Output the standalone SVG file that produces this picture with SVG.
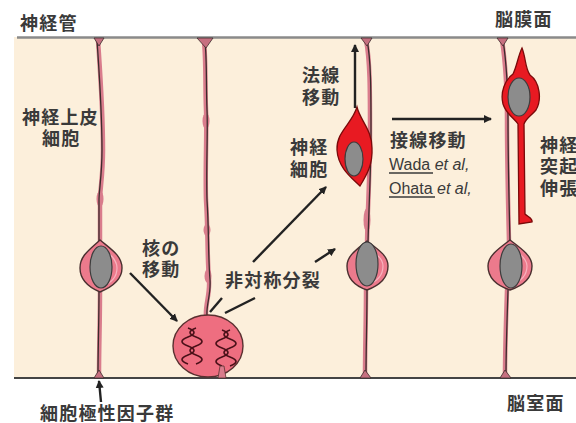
<svg xmlns="http://www.w3.org/2000/svg" width="576" height="423" viewBox="0 0 576 423">
  <defs>
    <style>
      .jp { font-family: "Noto Sans CJK JP", "Noto Sans", sans-serif; font-weight: 700; font-size: 18px; letter-spacing: 1.2px; fill: #3a3a3a; }
      .en { font-family: "Liberation Sans", Arial, sans-serif; font-size: 16px; fill: #3a3a3a; }
      .it { font-style: italic; }
      .fiber-pink { fill: none; stroke: #D97C8C; stroke-width: 4.5; stroke-linecap: round; }
      .fiber-dark { fill: none; stroke: #3b2c2c; stroke-width: 1.3; }
      .soma { fill: #EC7A8C; stroke: #4a3030; stroke-width: 1.4; }
      .soma-in { fill: none; stroke: #F7B3BE; stroke-width: 1.2; }
      .nuc { fill: #8C8C8C; stroke: #3d3d3d; stroke-width: 1.2; }
      .neuron { fill: #E81A22; stroke: #7a0a0a; stroke-width: 1.3; }
      .foot { fill: #C77080; stroke: #3b2c2c; stroke-width: 0.8; }
      .arrow { fill: none; stroke: #222; stroke-width: 2.4; }
      .dna { fill: none; stroke: #4a1018; stroke-width: 1.6; }
    </style>
    <marker id="ah" markerWidth="10" markerHeight="10" refX="7" refY="5" orient="auto" markerUnits="userSpaceOnUse">
      <path d="M0,1 L8,5 L0,9 Z" fill="#222"/>
    </marker>
  </defs>

  <!-- tissue background and surfaces -->
  <rect x="14" y="37" width="562" height="341" fill="#FCEFDB"/>
  <line x1="17" y1="37.5" x2="576" y2="37.5" stroke="#8a8a8a" stroke-width="2.5"/>
  <line x1="14" y1="378" x2="576" y2="378" stroke="#444" stroke-width="2"/>

  <!-- labels -->
  <g id="labels">
    <text class="jp" x="20" y="30">神経管</text>
    <text class="jp" x="495" y="26">脳膜面</text>
    <text class="jp" x="22" y="124">神経上皮</text>
    <text class="jp" x="42" y="145">細胞</text>
    <text class="jp" x="142" y="255">核の</text>
    <text class="jp" x="142" y="276">移動</text>
    <text class="jp" x="225" y="287">非対称分裂</text>
    <text class="jp" x="302" y="82">法線</text>
    <text class="jp" x="302" y="104">移動</text>
    <text class="jp" x="290" y="154">神経</text>
    <text class="jp" x="290" y="176">細胞</text>
    <text class="jp" x="390" y="147">接線移動</text>
    <text class="en" x="389" y="170">Wada <tspan class="it">et al,</tspan></text>
    <line x1="389" y1="173" x2="433" y2="173" stroke="#3a3a3a" stroke-width="1.3"/>
    <text class="en" x="389" y="194">Ohata <tspan class="it">et al,</tspan></text>
    <line x1="389" y1="197" x2="435" y2="197" stroke="#3a3a3a" stroke-width="1.3"/>
    <text class="jp" x="540" y="152">神経</text>
    <text class="jp" x="540" y="173">突起</text>
    <text class="jp" x="540" y="195">伸張</text>
    <text class="jp" x="40" y="420">細胞極性因子群</text>
    <text class="jp" x="507" y="410">脳室面</text>
  </g>

  <!-- radial cell 1 -->
  <g id="cell1">
    <path class="fiber-pink" d="M98,40 C100,70 103,110 103,150 C103,175 100,190 100,200 C100,215 100,230 100,242 M100,292 C100,320 99,350 99,375"/>
    <ellipse cx="100" cy="199" rx="3.5" ry="8" fill="#D97C8C"/>
    <path class="fiber-dark" d="M97,40 C99,70 102,110 102,150 C102,175 99,190 99,200 C99,215 99,230 99,242 M99,292 C99,320 98,350 98,375"/>
    <path class="foot" d="M94,38 L104,38 L99,46 Z"/>
    <path class="foot" d="M94,378 L104,378 L99,370 Z"/>
    <path class="soma" d="M100,240 C112,250 122,256 122,268 C122,280 112,287 100,292 C88,287 80,280 80,268 C80,256 89,250 100,240 Z"/>
    <path class="soma-in" d="M100,247 C111,254 117,260 117,268 C117,278 110,284 100,287"/>
    <ellipse class="nuc" cx="101" cy="267" rx="11" ry="21"/>
  </g>

  <!-- dividing cell -->
  <g id="cell2">
    <path class="fiber-pink" d="M204,42 C206,60 205,85 206,110 C207,130 205,170 206,200 C208,230 207,255 209,280 C210,295 205,305 206,316"/>
    <ellipse cx="206" cy="121" rx="3.5" ry="8" fill="#D97C8C"/>
    <ellipse cx="207" cy="230" rx="3.5" ry="6" fill="#D97C8C"/>
    <ellipse cx="208" cy="276" rx="3.5" ry="7" fill="#D97C8C"/>
    <path class="fiber-dark" d="M205,42 C207,60 206,85 207,110 C208,130 206,170 207,200 C209,230 208,255 210,280 C211,295 206,305 207,316"/>
    <path class="foot" d="M197,38 L213,38 L206,48 Z" fill="#D97C8C"/>
    <ellipse cx="208" cy="346" rx="35" ry="31" fill="#EE6E80" stroke="#5a3030" stroke-width="1.4"/>
    <!-- chromosomes: paired twisted strands -->
    <path class="dna" d="M188,328 c8,3 8,6 0,9 c-8,3 -8,6 0,9 c8,3 8,6 0,9 c-8,3 -8,6 0,9"/>
    <path class="dna" d="M196,328 c-8,3 -8,6 0,9 c8,3 8,6 0,9 c-8,3 -8,6 0,9 c8,3 8,6 0,9"/>
    <path class="dna" d="M222,330 c8,3 8,6 0,9 c-8,3 -8,6 0,9 c8,3 8,6 0,9 c-8,3 -8,6 0,9"/>
    <path class="dna" d="M230,330 c-8,3 -8,6 0,9 c8,3 8,6 0,9 c-8,3 -8,6 0,9 c8,3 8,6 0,9"/>
    <path d="M220,366 L224,366 L226,378 L218,378 Z" fill="#D97C8C" stroke="#5a3030" stroke-width="0.8"/>
  </g>

  <!-- radial cell 3 -->
  <g id="cell3">
    <path class="fiber-pink" d="M366,40 C370,60 370,90 370,130 C370,170 368,200 367,243 M366,290 C366,320 365,350 365,375"/>
    <ellipse cx="367" cy="220" rx="3.5" ry="12" fill="#D97C8C"/>
    <path class="fiber-dark" d="M367,40 C371,60 371,90 371,130 C371,170 369,200 368,243 M367,290 C367,320 366,350 366,375"/>
    <path class="foot" d="M361,38 L372,38 L367,46 Z"/>
    <path class="foot" d="M360,378 L371,378 L365,370 Z"/>
    <path class="soma" d="M367,241 C379,250 388,256 388,266 C388,279 378,286 367,290 C355,286 347,279 347,266 C347,256 356,250 367,241 Z"/>
    <path class="soma-in" d="M367,248 C377,254 383,259 383,266 C383,276 376,282 367,285"/>
    <ellipse class="nuc" cx="367" cy="264" rx="11" ry="22"/>
  </g>

  <!-- neuron after radial migration -->
  <g id="neuron1">
    <path class="neuron" d="M357,107 C360,120 372,130 372,148 C373,165 366,176 360,186 C352,178 338,168 337,150 C336,132 352,124 357,107 Z"/>
    <ellipse class="nuc" cx="354" cy="159" rx="9" ry="17"/>
  </g>

  <!-- radial cell 4 -->
  <g id="cell4">
    <path class="fiber-pink" d="M502,40 C505,60 507,80 507,120 C507,160 508,200 509,242 M507,290 C506,320 505,350 505,375"/>
    <path class="fiber-dark" d="M503,40 C506,60 508,80 508,120 C508,160 509,200 510,242 M508,290 C507,320 506,350 506,375"/>
    <path class="foot" d="M497,38 L508,38 L503,46 Z"/>
    <path class="foot" d="M500,378 L511,378 L505,370 Z"/>
    <path class="soma" d="M510,240 C522,249 532,256 532,266 C532,279 522,286 510,290 C498,286 488,279 488,266 C488,256 498,249 510,240 Z"/>
    <path class="soma-in" d="M510,247 C520,253 527,259 527,266 C527,276 520,282 510,285"/>
    <ellipse class="nuc" cx="511" cy="266" rx="11" ry="22"/>
  </g>

  <!-- neuron extending a process -->
  <g id="neuron2">
    <path class="neuron" d="M522,48 C526,58 525,68 530,75 C540,82 542,100 536,110 C531,116 526,118 524,124 L525,214 C528,217 533,218 532,222 L519,224 L518,124 C514,118 506,114 503,104 C500,92 505,80 513,74 C517,66 518,56 522,48 Z"/>
    <ellipse class="nuc" cx="519" cy="97" rx="11" ry="19"/>
  </g>

  <!-- connectors -->
  <g id="connectors">
    <line class="arrow" x1="355" y1="108" x2="355" y2="45" marker-end="url(#ah)"/>
    <line class="arrow" x1="392" y1="119" x2="491" y2="119" marker-end="url(#ah)"/>
    <line class="arrow" x1="253" y1="262" x2="326" y2="187" marker-end="url(#ah)"/>
    <line class="arrow" x1="315" y1="262" x2="335" y2="249" marker-end="url(#ah)"/>
    <line class="arrow" x1="130" y1="273" x2="177" y2="321" marker-end="url(#ah)"/>
    <line class="arrow" x1="101" y1="402" x2="99" y2="381" marker-end="url(#ah)"/>
    <line class="arrow" x1="210" y1="312" x2="222" y2="298"/>
    <line class="arrow" x1="225" y1="313" x2="255" y2="298"/>
  </g>
</svg>
